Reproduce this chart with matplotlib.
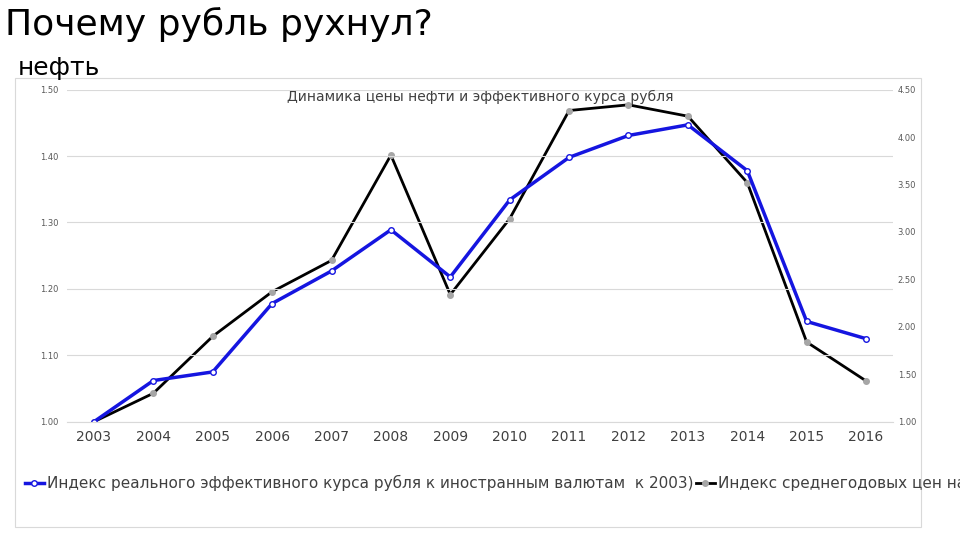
import matplotlib
matplotlib.use("Agg")
import matplotlib.pyplot as plt
from matplotlib.patches import Rectangle

plt.rcParams['font.family'] = ['Liberation Sans Narrow', 'DejaVu Sans']

years = ["2003","2004","2005","2006","2007","2008","2009","2010","2011","2012","2013","2014","2015","2016"]
rub_index = [1.00,1.062,1.075,1.178,1.227,1.289,1.218,1.334,1.398,1.431,1.447,1.378,1.151,1.125]
oil_index = [1.00,1.30,1.90,2.37,2.70,3.81,2.34,3.14,4.28,4.34,4.22,3.52,1.84,1.43]
left_ticks = [1.00,1.10,1.20,1.30,1.40,1.50]
right_ticks = [1.00,1.50,2.00,2.50,3.00,3.50,4.00,4.50]

fig = plt.figure(figsize=(9.6,5.4), dpi=100)
fig.text(0.005, 0.955, "Почему рубль рухнул?", fontsize=26, va="center", ha="left")
fig.text(0.018, 0.875, "нефть", fontsize=18, va="center", ha="left")
fig.patches.append(Rectangle((0.016,0.024),0.943,0.832, transform=fig.transFigure,
                             fill=False, edgecolor="#d9d9d9", lw=0.8))

ax = fig.add_axes([0.07, 0.219, 0.86, 0.615])
x = list(range(len(years)))
ax.set_xlim(-0.45, len(years)-0.55)
ax.set_ylim(1.0,1.5)
ax.set_yticks(left_ticks)
ax.set_yticklabels([f"{v:.2f}" for v in left_ticks], fontsize=6, color="#595959")
ax.set_xticks(x)
ax.set_xticklabels(years, fontsize=10, color="#404040")
ax.tick_params(length=0, pad=6)
ax.grid(axis="y", color="#d9d9d9", lw=0.8)
for s in ax.spines.values():
    s.set_visible(False)
ax.spines["bottom"].set_visible(True); ax.spines["bottom"].set_color("#d9d9d9")
ax.set_axisbelow(True)

l1, = ax.plot(x, rub_index, color="#1515e0", lw=2.5, marker="o", ms=4,
              mfc="white", mec="#1515e0", mew=1,
              label="Индекс реального эффективного курса рубля к иностранным валютам  к 2003)")
ax2 = ax.twinx()
ax2.set_ylim(1.0,4.5)
ax2.set_yticks(right_ticks)
ax2.set_yticklabels([f"{v:.2f}" for v in right_ticks], fontsize=6, color="#595959")
ax2.tick_params(length=0)
for s in ax2.spines.values():
    s.set_visible(False)
l2, = ax2.plot(x, oil_index, color="black", lw=2, marker="o", ms=4,
               mfc="#a6a6a6", mec="#a6a6a6",
               label="Индекс среднегодовых цен на нефть (2003=1)")
ax.set_zorder(ax2.get_zorder()+1); ax.patch.set_visible(False)

ax.set_title("Динамика цены нефти и эффективного курса рубля", fontsize=10, color="#404040", pad=-8, y=1.0)
fig.legend(handles=[l1,l2], loc="center left", bbox_to_anchor=(0.012,0.105), ncol=2,
           frameon=False, fontsize=11, handlelength=1.2, columnspacing=0.2, handletextpad=0.2,
           labelcolor="#404040")
fig.savefig("out.png", dpi=100)
